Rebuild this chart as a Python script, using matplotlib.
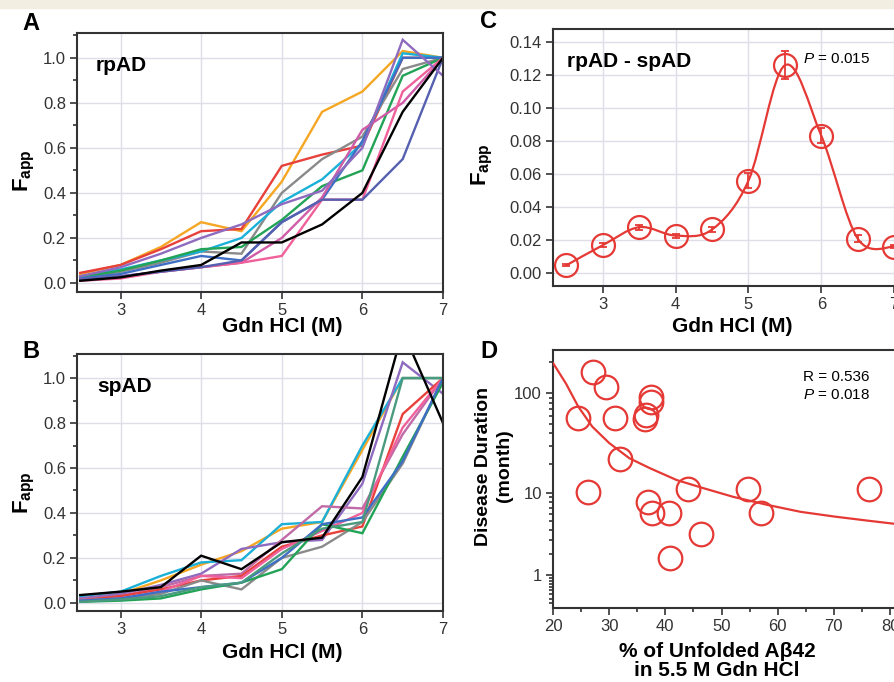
import numpy as np
import matplotlib
matplotlib.use("Agg")
import matplotlib.pyplot as plt
from matplotlib.path import Path
from matplotlib.patches import PathPatch, Rectangle
from matplotlib.ticker import FixedLocator, MultipleLocator, NullFormatter

plt.rcParams['font.family'] = ['Liberation Sans', 'DejaVu Sans']
plt.rcParams['mathtext.fontset'] = 'custom'
plt.rcParams['mathtext.rm'] = 'Liberation Sans'
plt.rcParams['mathtext.it'] = 'Liberation Sans:italic'
plt.rcParams['mathtext.bf'] = 'Liberation Sans:bold'

# ---------------- data ----------------
gdn = [2.5, 3.0, 3.5, 4.0, 4.5, 5.0, 5.5, 6.0, 6.5, 7.0]

# Panel A (rpAD)
rp_orange  = [0.040, 0.080, 0.160, 0.270, 0.230, 0.450, 0.760, 0.850, 1.030, 1.000]
rp_red     = [0.045, 0.080, 0.150, 0.230, 0.240, 0.520, 0.570, 0.610, 1.000, 1.000]
rp_gray    = [0.020, 0.050, 0.090, 0.140, 0.130, 0.400, 0.550, 0.650, 0.950, 1.000]
rp_cyan    = [0.030, 0.060, 0.100, 0.140, 0.200, 0.360, 0.460, 0.620, 1.020, 1.000]
rp_green   = [0.025, 0.055, 0.100, 0.150, 0.160, 0.280, 0.430, 0.500, 0.920, 1.000]
rp_blue    = [0.020, 0.040, 0.080, 0.120, 0.100, 0.270, 0.370, 0.630, 1.000, 1.000]
rp_magenta = [0.015, 0.030, 0.050, 0.070, 0.090, 0.200, 0.380, 0.680, 0.800, 1.000]
rp_pink    = [0.010, 0.020, 0.050, 0.070, 0.090, 0.120, 0.370, 0.370, 0.850, 1.000]
rp_slate   = [0.015, 0.030, 0.050, 0.070, 0.100, 0.270, 0.370, 0.370, 0.550, 1.000]
rp_purple  = [0.030, 0.070, 0.130, 0.200, 0.260, 0.350, 0.410, 0.600, 1.080, 0.920]
rp_black   = [0.010, 0.025, 0.055, 0.080, 0.180, 0.180, 0.260, 0.400, 0.760, 1.000]

# Panel B (spAD)
sp_orange  = [0.020, 0.040, 0.100, 0.170, 0.230, 0.330, 0.360, 0.680, 1.000, 1.000]
sp_cyan    = [0.030, 0.050, 0.120, 0.180, 0.190, 0.350, 0.360, 0.700, 1.000, 1.000]
sp_purple  = [0.020, 0.040, 0.080, 0.130, 0.240, 0.270, 0.280, 0.530, 1.070, 0.930]
sp_mauve   = [0.015, 0.030, 0.070, 0.120, 0.130, 0.280, 0.430, 0.420, 0.750, 1.000]
sp_red     = [0.010, 0.030, 0.060, 0.100, 0.120, 0.250, 0.300, 0.340, 0.840, 1.000]
sp_pink    = [0.010, 0.020, 0.050, 0.120, 0.110, 0.240, 0.320, 0.400, 0.780, 1.000]
sp_gray    = [0.010, 0.020, 0.040, 0.100, 0.060, 0.200, 0.250, 0.360, 0.620, 1.000]
sp_green   = [0.005, 0.010, 0.020, 0.060, 0.090, 0.150, 0.350, 0.310, 0.650, 0.980]
sp_blue    = [0.010, 0.020, 0.050, 0.070, 0.090, 0.200, 0.350, 0.380, 0.630, 1.000]
sp_teal    = [0.005, 0.015, 0.030, 0.070, 0.090, 0.220, 0.330, 0.360, 1.000, 1.000]
sp_black   = [0.035, 0.050, 0.070, 0.210, 0.150, 0.270, 0.290, 0.560, 1.210, 0.800]

# Panel C (rpAD - spAD)
diff_mean = [0.0046, 0.0168, 0.0277, 0.0226, 0.0263, 0.0560, 0.1260, 0.0832, 0.0208, 0.0158]
diff_err  = [0.0005, 0.0010, 0.0015, 0.0012, 0.0013, 0.0045, 0.0085, 0.0045, 0.0020, 0.0010]

# Panel D
unfolded = [27.2, 29.4, 24.5, 31.1, 32.0, 26.3, 37.4, 37.5, 36.5, 36.3,
            36.9, 37.6, 40.6, 44.0, 46.3, 40.9, 54.8, 57.0, 76.3]
duration = [161, 115, 57, 57, 22.1, 10.3, 92, 82, 61, 55,
            8.1, 6.2, 6.2, 10.9, 3.6, 1.8, 10.9, 6.2, 10.9]
fit_x = [20.05, 22.3, 24.5, 27.0, 30.0, 33.6, 37.2, 42.0, 46.8, 52.1, 58.1, 64.1, 70.1, 76.0, 81.5]
fit_y = [195, 124, 73.4, 46.6, 32.1, 22.6, 18.0, 13.6, 11.2, 9.1, 7.5, 6.3, 5.6, 5.05, 4.6]

# ---------------- figure ----------------
W, H = 895, 682
fig = plt.figure(figsize=(W / 100, H / 100), dpi=100)
fig.patches.append(Rectangle((0, 1 - 8 / H), 1, 8 / H, transform=fig.transFigure,
                             color='#f2eee2', zorder=0))


def rect(l, t, r, b):
    return [l / W, 1 - b / H, (r - l) / W, (b - t) / H]


SPINE = '#333333'
GRID = '#dedee8'
TICKC = '#333333'
RED = '#e53935'


def style(ax, grid=True):
    for s in ax.spines.values():
        s.set_color(SPINE)
        s.set_linewidth(1.5)
    ax.tick_params(which='both', direction='out', color=SPINE, labelcolor=TICKC,
                   labelsize=12, width=1.2)
    ax.tick_params(which='major', length=5, pad=3)
    ax.tick_params(which='minor', length=3)
    if grid:
        ax.grid(True, which='major', color=GRID, linewidth=1.0)
        ax.set_axisbelow(True)


def curves(ax, series):
    for vals, col in series:
        ax.plot(gdn, vals, color=col, lw=1.7, solid_joinstyle='miter')


colA = [(rp_orange, '#f5a623'), (rp_red, '#e8403a'), (rp_gray, '#8a8a8a'),
        (rp_cyan, '#1ab0d8'), (rp_green, '#22a356'), (rp_blue, '#3f6fc4'),
        (rp_magenta, '#d05ca8'), (rp_pink, '#f0609a'), (rp_slate, '#5560b0'),
        (rp_purple, '#8e6bbf'), (rp_black, '#000000')]
colB = [(sp_orange, '#f5a623'), (sp_cyan, '#1ab0d8'), (sp_purple, '#8e6bbf'),
        (sp_mauve, '#c06aa8'), (sp_red, '#e8403a'), (sp_pink, '#f0609a'),
        (sp_gray, '#8a8a8a'), (sp_green, '#22a356'), (sp_blue, '#3f6fc4'),
        (sp_teal, '#4a9a80'), (sp_black, '#000000')]

# Panel A
axA = fig.add_axes(rect(77, 33, 443, 292))
style(axA)
curves(axA, colA)
axA.set_xlim(2.46, 7.0)
axA.set_ylim(-0.04, 1.11)
axA.set_xticks([3, 4, 5, 6, 7])
axA.set_yticks([0, 0.2, 0.4, 0.6, 0.8, 1.0])
axA.yaxis.set_minor_locator(MultipleLocator(0.1))
axA.yaxis.set_major_formatter(plt.FormatStrFormatter('%.1f'))
axA.text(0.052, 0.873, 'rpAD', transform=axA.transAxes, fontsize=15,
         fontweight='bold', va='center', ha='left')

# Panel B
axB = fig.add_axes(rect(77, 354, 443, 611))
style(axB)
curves(axB, colB)
axB.set_xlim(2.46, 7.0)
axB.set_ylim(-0.036, 1.107)
axB.set_xticks([3, 4, 5, 6, 7])
axB.set_yticks([0, 0.2, 0.4, 0.6, 0.8, 1.0])
axB.yaxis.set_minor_locator(MultipleLocator(0.1))
axB.yaxis.set_major_formatter(plt.FormatStrFormatter('%.1f'))
axB.text(0.055, 0.872, 'spAD', transform=axB.transAxes, fontsize=15,
         fontweight='bold', va='center', ha='left')

# Panel C
axC = fig.add_axes(rect(553, 29, 905, 286))
style(axC)
axC.set_xlim(2.315, 7.15)
axC.set_ylim(-0.008, 0.148)
axC.set_xticks([3, 4, 5, 6, 7])
axC.set_yticks(np.arange(0, 0.141, 0.02))
axC.yaxis.set_major_formatter(plt.FormatStrFormatter('%.2f'))

# smooth curve through the points (Catmull-Rom as cubic Bezier path)
pts = np.column_stack([gdn, diff_mean])
verts = [tuple(pts[0])]
codes = [Path.MOVETO]
n = len(pts)
for i in range(n - 1):
    p0 = pts[i - 1] if i > 0 else pts[i]
    p1 = pts[i]
    p2 = pts[i + 1]
    p3 = pts[i + 2] if i + 2 < n else pts[i + 1]
    c1 = p1 + (p2 - p0) / 6.0
    c2 = p2 - (p3 - p1) / 6.0
    verts += [tuple(c1), tuple(c2), tuple(p2)]
    codes += [Path.CURVE4] * 3
axC.add_patch(PathPatch(Path(verts, codes), facecolor='none', edgecolor=RED, lw=1.6,
                        transform=axC.transData, zorder=3))
axC.errorbar(gdn, diff_mean, yerr=diff_err, fmt='none', ecolor=RED, elinewidth=1.3,
             capsize=3, capthick=1.3, zorder=4)
axC.plot(gdn, diff_mean, 'o', ms=16.5, mfc='none', mec=RED, mew=1.6, zorder=5,
         clip_on=False)
axC.text(0.04, 0.872, 'rpAD - spAD', transform=axC.transAxes, fontsize=15,
         fontweight='bold', va='center', ha='left')
axC.text(5.75, 0.1297, r'$\it{P}$ = 0.015', fontsize=11, va='center', ha='left')

# Panel D
axD = fig.add_axes(rect(553, 350, 899, 608))
style(axD, grid=False)
fwd = lambda y: np.log10(np.maximum(np.asarray(y, dtype=float) + 0.7, 1e-6))
inv = lambda u: 10 ** np.asarray(u, dtype=float) - 0.7
axD.set_yscale('function', functions=(fwd, inv))
axD.set_xlim(20, 81.6)
axD.set_ylim(0.11, 263.5)
axD.set_yticks([1, 10, 100])
axD.set_yticklabels(['1', '10', '100'])
minors = [v * d for d in (0.1, 1, 10, 100) for v in range(2, 10)]
minors = [m for m in minors if 0.11 < m < 263]
axD.yaxis.set_minor_locator(FixedLocator(minors))
axD.yaxis.set_minor_formatter(NullFormatter())
axD.set_xticks([20, 30, 40, 50, 60, 70, 80])
axD.xaxis.set_minor_locator(MultipleLocator(5))
axD.plot(fit_x, fit_y, color=RED, lw=1.6, zorder=3)
axD.plot(unfolded, duration, 'o', ms=17, mfc='none', mec=RED, mew=1.6, zorder=4)
axD.text(0.722, 0.896, 'R = 0.536', transform=axD.transAxes, fontsize=11,
         va='center', ha='left')
axD.text(0.722, 0.826, r'$\it{P}$ = 0.018', transform=axD.transAxes, fontsize=11,
         va='center', ha='left')

# ---------------- labels ----------------
def ft(x, y, s, **kw):
    fig.text(x / W, 1 - y / H, s, **kw)

for (x, y, s) in [(31, 24, 'A'), (31, 352, 'B'), (489, 21, 'C'), (489, 352, 'D')]:
    ft(x, y, s, fontsize=17, fontweight='bold', ha='center', va='center')

ft(282, 327, 'Gdn HCl (M)', fontsize=15, fontweight='bold', ha='center', va='center')
ft(282, 652, 'Gdn HCl (M)', fontsize=15, fontweight='bold', ha='center', va='center')
ft(732, 327, 'Gdn HCl (M)', fontsize=15, fontweight='bold', ha='center', va='center')
ft(717, 661, '% of Unfolded A\u03b242\nin 5.5 M Gdn HCl', fontsize=15,
   fontweight='bold', ha='center', va='center', linespacing=0.95)

flab = r'$\mathbf{F_{app}}$'
ft(24, 171, flab, fontsize=16, rotation=90, ha='center', va='center')
ft(24, 493, flab, fontsize=16, rotation=90, ha='center', va='center')
ft(482, 165, flab, fontsize=16, rotation=90, ha='center', va='center')
ft(494, 466, 'Disease Duration\n(month)', fontsize=14, fontweight='bold',
   rotation=90, ha='center', va='center', linespacing=1.3, multialignment='center')

fig.savefig('out.png', dpi=100)
